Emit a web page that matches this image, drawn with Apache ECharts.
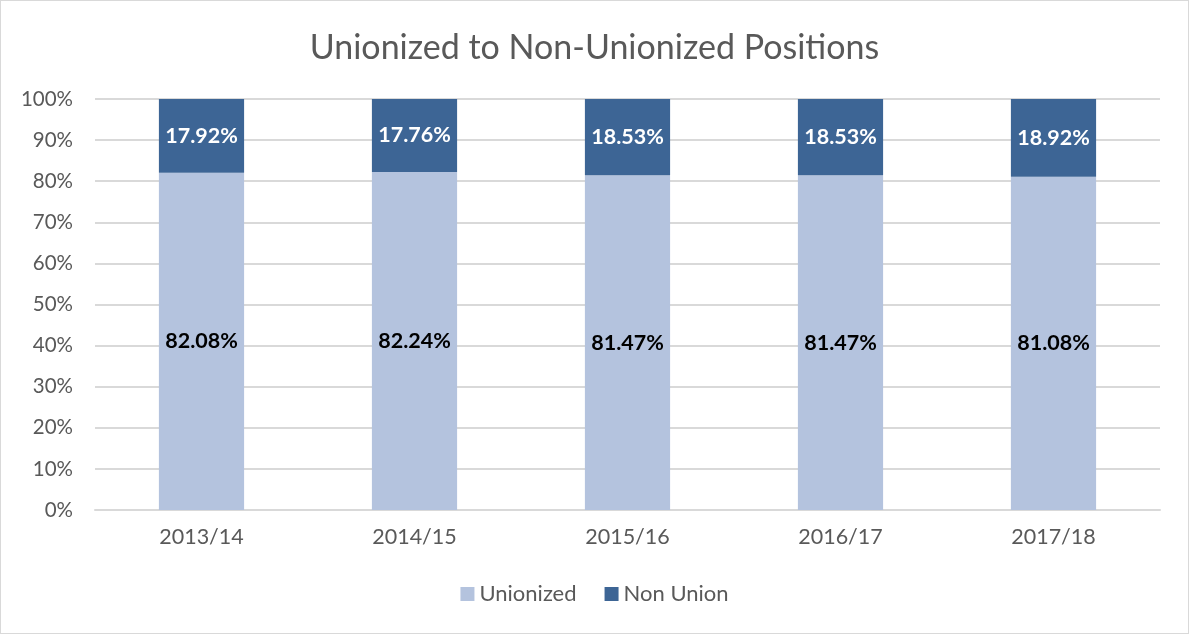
<!DOCTYPE html>
<html>
<head>
<meta charset="utf-8">
<script src="https://cdn.jsdelivr.net/npm/echarts@6/dist/echarts.min.js"></script>
<style>
  html, body { margin: 0; padding: 0; background: #fff; }
  #main { width: 1187px; height: 632px; border: 1px solid #d9d9d9; }
</style>
</head>
<body>
<div id="main"></div>
<script>
var years = ['2013/14', '2014/15', '2015/16', '2016/17', '2017/18']
var unionized = [82.08, 82.24, 81.47, 81.47, 81.08]
var nonUnion = [17.92, 17.76, 18.53, 18.53, 18.92]

var font = 'Lato'
var myChart = echarts.init(document.getElementById('main'))

var option = {
  animation: false,
  title: {
    text: 'Unionized to Non-Unionized Positions',
    left: 'center',
    top: 25,
    textStyle: { fontFamily: font, fontSize: 34, fontWeight: 'normal', color: '#595959' }
  },
  legend: {
    bottom: 23,
    left: 'center',
    itemWidth: 14,
    itemHeight: 14,
    itemGap: 28,
    icon: 'rect',
    textStyle: { fontFamily: font, fontSize: 22, color: '#595959' },
    data: ['Unionized', 'Non Union']
  },
  grid: { left: 94, right: 28, top: 98, bottom: 123 },
  xAxis: {
    type: 'category',
    data: years,
    axisTick: { show: false },
    axisLine: { lineStyle: { color: '#d9d9d9', width: 2 } },
    axisLabel: { fontFamily: font, fontSize: 21.5, color: '#595959', margin: 16 }
  },
  yAxis: {
    type: 'value',
    min: 0,
    max: 100,
    interval: 10,
    axisLabel: {
      fontFamily: font, fontSize: 20.5, color: '#595959', margin: 22,
      formatter: function (v) { return v + '%' }
    },
    splitLine: { lineStyle: { color: '#d9d9d9', width: 2 } }
  },
  series: [{
    name: 'Unionized',
    type: 'bar',
    stack: 'total',
    barWidth: '40%',
    itemStyle: { color: '#b4c3de' },
    label: {
      show: true, position: 'inside',
      fontFamily: font, fontSize: 21.5, fontWeight: 'bold', color: '#000',
      formatter: function (p) { return p.value.toFixed(2) + '%' }
    },
    data: unionized
  }, {
    name: 'Non Union',
    type: 'bar',
    stack: 'total',
    barWidth: '40%',
    itemStyle: { color: '#3d6595' },
    label: {
      show: true, position: 'inside',
      fontFamily: font, fontSize: 21.5, fontWeight: 'bold', color: '#fff',
      formatter: function (p) { return p.value.toFixed(2) + '%' }
    },
    data: nonUnion
  }]
}

myChart.setOption(option)
</script>
</body>
</html>
